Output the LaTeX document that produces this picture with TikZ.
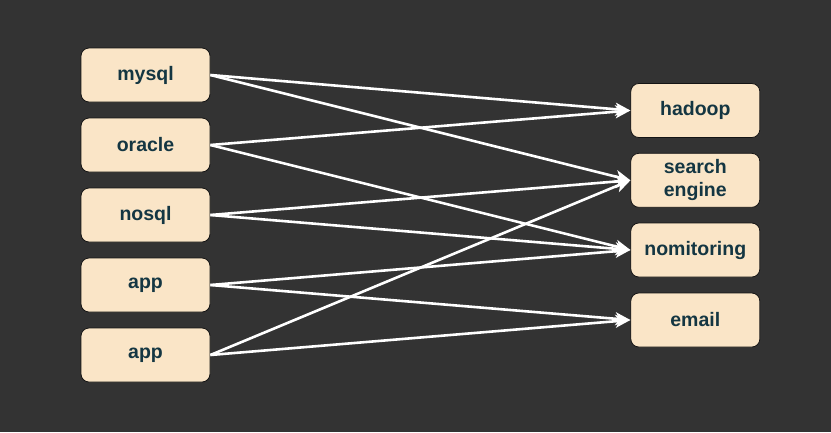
\documentclass[tikz,border=0pt]{standalone}
\usepackage{fontspec}
\setmainfont{Liberation Sans}
\usetikzlibrary{arrows.meta}
\definecolor{bgc}{HTML}{333333}
\definecolor{boxfill}{HTML}{FAE5C7}
\definecolor{boxline}{HTML}{141414}
\definecolor{txt}{HTML}{143642}
\begin{document}
\begin{tikzpicture}[x=1bp,y=-1bp,
  box/.style={draw=boxline,line width=0.8bp,fill=boxfill,rounded corners=8bp,
    minimum width=129bp,minimum height=54bp,inner sep=0pt,align=center,
    text=txt,font=\fontsize{19.5bp}{23bp}\selectfont\bfseries},
  link/.style={draw=white,line width=2.6bp,-{Stealth[length=15bp,width=13bp,inset=4bp]}}]
\fill[bgc] (0,0) rectangle (831,432);
\useasboundingbox (0,0) rectangle (831,432);
\node[box] (mysql) at (145.5,75) {mysql};
\node[box] (oracle) at (145.5,145) {oracle};
\node[box] (nosql) at (145.5,215) {nosql};
\node[box] (appa) at (145.5,285) {app};
\node[box] (appb) at (145.5,355) {app};
\node[box] (hadoop) at (695.3,110.5) {hadoop};
\node[box] (search) at (695.3,180.3) {search\\engine};
\node[box] (mon) at (695.3,250) {nomitoring};
\node[box] (email) at (695.3,320) {email};
\draw[link] (mysql.east) -- (hadoop.west);
\draw[link] (mysql.east) -- (search.west);
\draw[link] (oracle.east) -- (hadoop.west);
\draw[link] (oracle.east) -- (mon.west);
\draw[link] (nosql.east) -- (search.west);
\draw[link] (nosql.east) -- (mon.west);
\draw[link] (appa.east) -- (mon.west);
\draw[link] (appa.east) -- (email.west);
\draw[link] (appb.east) -- (search.west);
\draw[link] (appb.east) -- (email.west);
\end{tikzpicture}
\end{document}
